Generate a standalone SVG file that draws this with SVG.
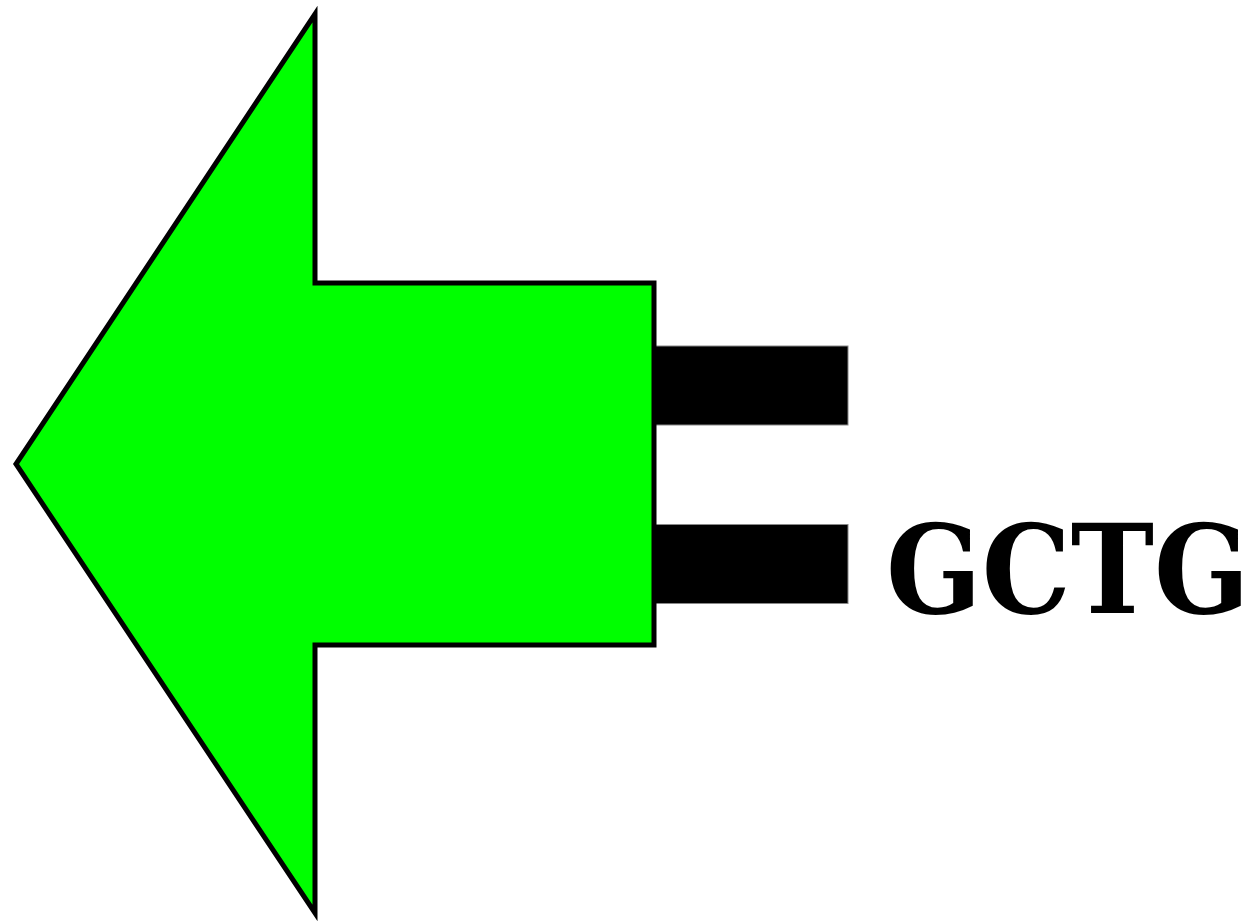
<svg xmlns="http://www.w3.org/2000/svg" width="1260" height="922" viewBox="0 0 1260 922">
<style>
.bar{fill:#000;stroke:#888;stroke-width:1}
.lbl{font-family:"DejaVu Serif","Liberation Serif",serif;font-weight:bold;font-size:112px;fill:#000}
</style>
<rect width="1260" height="922" fill="#fff"/>
<g id="bars">
<rect class="bar" x="655" y="346" width="193" height="79"/>
<rect class="bar" x="655" y="524.5" width="193" height="79"/>
</g>
<g id="arrow">
<polygon points="315,14 315,283 654,283 654,645 315,645 315,913 16,464" fill="#00ff00" stroke="#000" stroke-width="5"/>
</g>
<g id="label">
<text class="lbl" transform="translate(886,613) scale(1,1.1)" x="0" y="0">GCTG</text>
</g>
</svg>
